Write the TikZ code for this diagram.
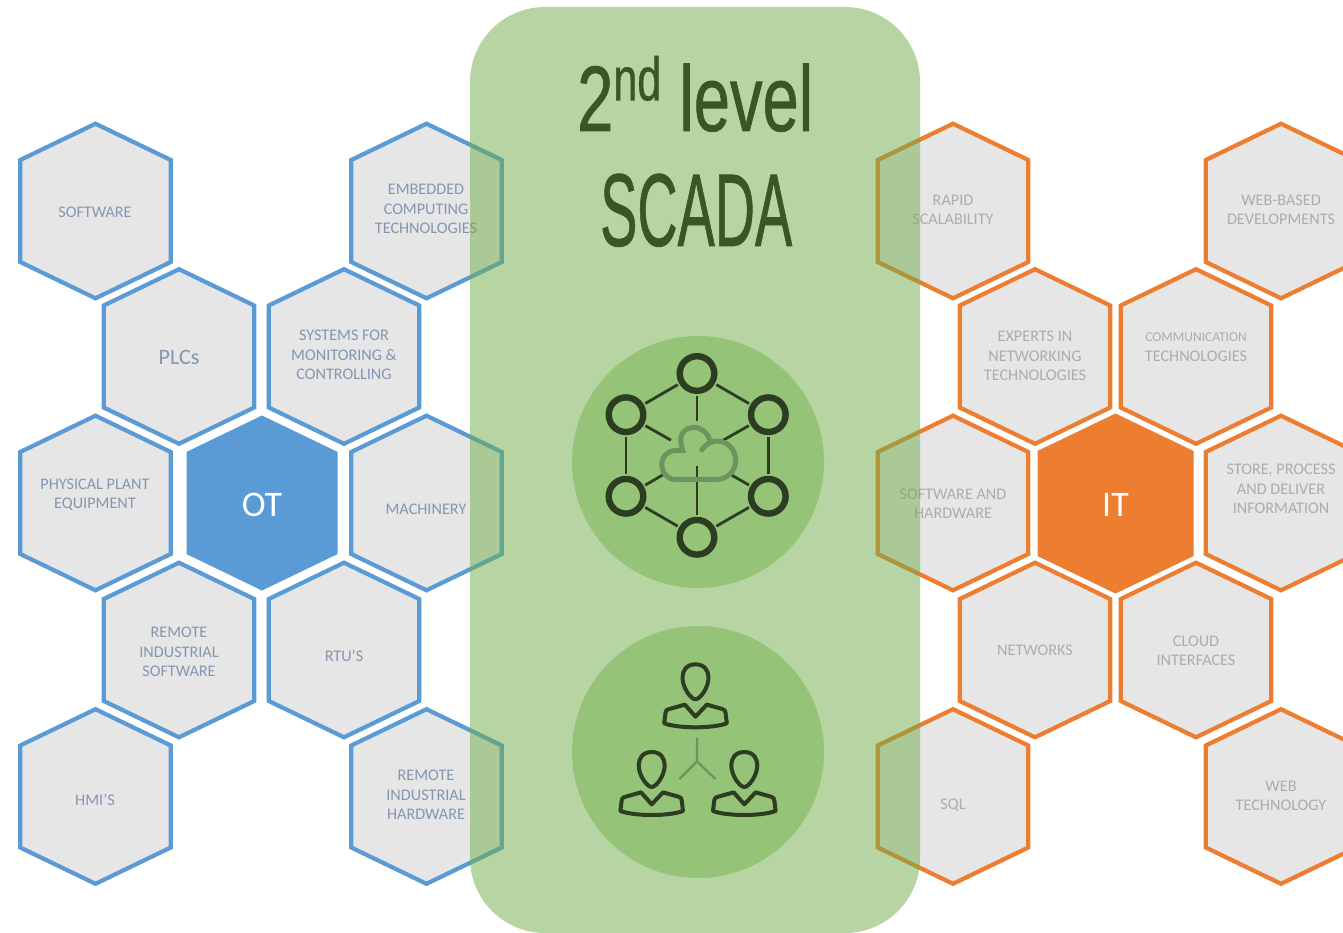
\documentclass[tikz,border=0pt]{standalone}
\usepackage{fontspec}
\usepackage{graphicx}
\setmainfont{Carlito}
\newfontfamily\titlefont[FakeBold=0.9]{Liberation Sans}
\definecolor{otblue}{HTML}{5B9BD5}
\definecolor{itorange}{HTML}{ED7D31}
\definecolor{hexgray}{HTML}{E6E6E6}
\definecolor{otfont}{HTML}{8497B0}
\definecolor{itfont}{HTML}{AFABAB}
\definecolor{panelgreen}{HTML}{70AD47}
\definecolor{discgreen}{HTML}{95C377}
\definecolor{titlegreen}{HTML}{385723}
\definecolor{icondark}{HTML}{2D3D22}
\definecolor{iconsoft}{HTML}{6B9460}
\tikzset{
  x=1pt,y=-1pt,
  hexline/.style={line width=4.2pt,fill=hexgray,line join=miter},
  hexot/.style={hexline,draw=otblue},
  hexit/.style={hexline,draw=itorange},
  lab/.style={align=center,inner sep=0pt,yshift=-1pt,font=\fontsize{16.2}{19.4}\selectfont},
  labot/.style={lab,text=otfont},
  labit/.style={lab,text=itfont},
  labhub/.style={inner sep=0pt,yshift=-1pt,text=white,font=\fontsize{36}{40}\selectfont},
  disc/.style={fill=discgreen,draw=none},
  ring/.style={circle,draw=icondark,line width=6.4pt,minimum size=34.6pt,inner sep=0pt,outer sep=0pt},
  linkline/.style={draw=icondark,line width=2.8pt},
  softline/.style={draw=iconsoft,line width=5pt,line cap=round},
  persline/.style={draw=icondark,line width=4pt,line join=round},
  titletext/.style={inner sep=0pt,text=titlegreen},
}
\newcommand{\hexshape}[5]{% style, cx, cy, half width, half height
  \path[#1] (#2,#3-#5) -- (#2+#4,#3-#5*0.584) -- (#2+#4,#3+#5*0.584) -- (#2,#3+#5)
    -- (#2-#4,#3+#5*0.584) -- (#2-#4,#3-#5*0.584) -- cycle;}
\newcommand{\hexot}[2]{\hexshape{hexot}{#1}{#2}{75.3}{87.3}}
\newcommand{\hexit}[2]{\hexshape{hexit}{#1}{#2}{75.3}{87.3}}
\newcommand{\personicon}[2]{%
  \begin{scope}[shift={(#1,#2)},scale=1/3]
    \path[persline] (0,-117) .. controls (28,-117) and (39,-97) .. (39,-77)
      .. controls (39,-47) and (14,-12) .. (0,-12)
      .. controls (-14,-12) and (-39,-47) .. (-39,-77)
      .. controls (-39,-97) and (-28,-117) .. (0,-117) -- cycle;
    \path[persline] (-94,60) -- (-90,28) .. controls (-88,18) and (-82,18) .. (-78,17)
      -- (-32,4) -- (0,40) -- (34,4) -- (80,17) .. controls (86,18) and (90,22) .. (90,28)
      -- (94,60) .. controls (50,76) and (-50,76) .. (-94,60) -- cycle;
  \end{scope}}
\begin{document}
\begin{tikzpicture}
\useasboundingbox (0,0) rectangle (1343,933);
\clip (0,0) rectangle (1343,933);
\fill[white] (0,0) rectangle (1343,933);
% OT side
\hexot{95.5}{211}\hexot{426.5}{211}\hexot{179}{356.5}\hexot{344}{356.5}
\hexot{95.5}{503}\hexot{426.5}{503}\hexot{179}{650}\hexot{344}{650}
\hexot{95.5}{796.5}\hexot{426.5}{796.5}
\hexshape{fill=otblue}{262}{503}{75.5}{87.5}
% IT side
\hexit{953}{211}\hexit{1281}{211}\hexit{1035}{356.5}\hexit{1196}{356.5}
\hexit{953}{503}\hexit{1281}{503}\hexit{1035}{650}\hexit{1196}{650}
\hexit{953}{796.5}\hexit{1281}{796.5}
\hexshape{fill=itorange}{1115.5}{503.5}{78}{90}
% labels
\node[labot] (l1) at (95,211) {SOFTWARE};
\node[labot] (l2) at (426,208) {EMBEDDED\\COMPUTING\\TECHNOLOGIES};
\node[labot,font=\fontsize{22}{24}\selectfont] (l3) at (179,356) {PLCs};
\node[labot] (l4) at (344,354) {SYSTEMS FOR\\MONITORING \&\\CONTROLLING};
\node[labot] (l5) at (95,494) {PHYSICAL PLANT\\EQUIPMENT};
\node[labot] (l6) at (426,508) {MACHINERY};
\node[labot] (l7) at (179,651) {REMOTE\\INDUSTRIAL\\SOFTWARE};
\node[labot] (l8) at (344,655) {RTU’S};
\node[labot] (l9) at (95,799) {HMI’S};
\node[labot] (l10) at (426,794) {REMOTE\\INDUSTRIAL\\HARDWARE};
\node[labhub] (ot) at (262,504) {OT};
\node[labit] (r1) at (953,209) {RAPID\\SCALABILITY};
\node[labit] (r2) at (1281,209) {WEB-BASED\\DEVELOPMENTS};
\node[labit] (r3) at (1035,355) {EXPERTS IN\\NETWORKING\\TECHNOLOGIES};
\node[labit,font=\fontsize{13.5}{19.4}\selectfont] (r4a) at (1196,336) {COMMUNICATION};
\node[labit] (r4b) at (1196,355) {TECHNOLOGIES};
\node[labit] (r5) at (953,503) {SOFTWARE AND\\HARDWARE};
\node[labit] (r6) at (1281,488) {STORE, PROCESS\\AND DELIVER\\INFORMATION};
\node[labit] (r7) at (1035,649) {NETWORKS};
\node[labit] (r8) at (1196,650) {CLOUD\\INTERFACES};
\node[labit] (r9) at (953,804) {SQL};
\node[labit] (r10) at (1281,795) {WEB\\TECHNOLOGY};
\node[labhub] (it) at (1115.5,504) {IT};
% panel
\fill[panelgreen,fill opacity=0.5,rounded corners=75pt] (470,7) rectangle (920,933);
\fill[disc] (698,462) circle[radius=126];
\fill[disc] (698,752) circle[radius=126];
% title
\node[titletext,anchor=south west] (t1) at (577,132) {\resizebox{236pt}{75pt}{\titlefont 2\raisebox{0.33em}{\scalebox{0.66}{nd}} level}};
\node[titletext,anchor=south west] (t2) at (600,247) {\resizebox{192pt}{72pt}{\titlefont SCADA}};
% network icon
\node[ring] (n1) at (697,373.5) {};
\node[ring] (n2) at (768.3,414.7) {};
\node[ring] (n3) at (768.3,496.3) {};
\node[ring] (n4) at (697,537.3) {};
\node[ring] (n5) at (626,496.3) {};
\node[ring] (n6) at (626,414.7) {};
\foreach \a/\b in {n1/n2,n2/n3,n3/n4,n4/n5,n5/n6,n6/n1}
  \path[linkline,shorten >=5pt,shorten <=5pt] (\a) -- (\b);
\coordinate (cl) at (697,455);
\path[linkline,shorten <=5pt,shorten >=34pt] (n1) -- (cl);
\path[linkline,shorten <=5pt,shorten >=30pt] (n2) -- (cl);
\path[linkline,shorten <=5pt,shorten >=36pt] (n3) -- (cl);
\path[linkline,shorten <=5pt,shorten >=11pt] (n4) -- (cl);
\path[linkline,shorten <=5pt,shorten >=36pt] (n5) -- (cl);
\path[linkline,shorten <=5pt,shorten >=30pt] (n6) -- (cl);
\begin{scope}[shift={(560,330)},scale=1/3]
  \path[softline] (425,360) .. controls (440,340) and (455,333) .. (470,333)
    .. controls (505,333) and (527,360) .. (527,392)
    .. controls (527,425) and (500,448) .. (470,448) -- (345,448)
    .. controls (320,448) and (305,425) .. (305,403)
    .. controls (305,380) and (325,361) .. (350,361) -- (368,361)
    .. controls (355,325) and (362,295) .. (402,292)
    .. controls (425,292) and (445,310) .. (450,332);
\end{scope}
% people icon
\personicon{695.5}{703.3}
\personicon{651.7}{791}
\personicon{744.3}{791}
\coordinate (yc) at (697,761.5);
\coordinate (y1) at (697,738.5);
\coordinate (y2) at (680,778.5);
\coordinate (y3) at (715,778.5);
\path[draw=iconsoft,line width=2.2pt,line cap=round] (y1) -- (yc) (y2) -- (yc) -- (y3);
\end{tikzpicture}
\end{document}
